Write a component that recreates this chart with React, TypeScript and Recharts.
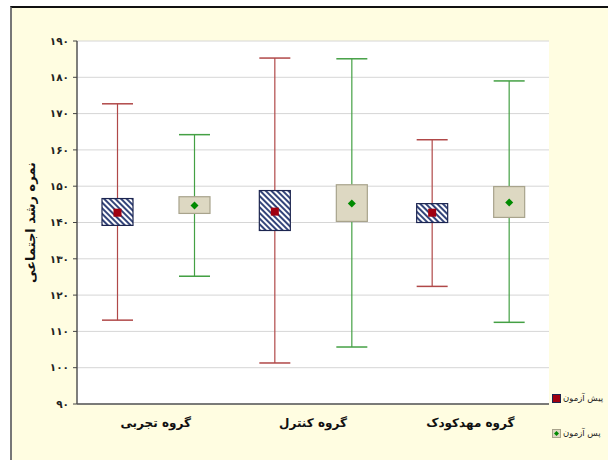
import {
  ComposedChart,
  Bar,
  XAxis,
  YAxis,
  CartesianGrid,
} from 'recharts';

const categories = ['گروه تجربی', 'گروه کنترل', 'گروه مهدکودک'];

// pre-test (پیش آزمون)
const preMin = [113.1, 101.3, 122.4];
const preBoxLow = [139.2, 137.8, 140.0];
const preMean = [142.7, 143.0, 142.7];
const preBoxHigh = [146.6, 148.8, 145.2];
const preMax = [172.7, 185.3, 162.8];

// post-test (پس آزمون)
const postMin = [125.2, 105.7, 112.5];
const postBoxLow = [142.5, 140.3, 141.4];
const postMean = [144.7, 145.2, 145.5];
const postBoxHigh = [147.1, 150.4, 149.9];
const postMax = [164.2, 185.1, 179.0];

const yTicks = [90, 100, 110, 120, 130, 140, 150, 160, 170, 180, 190];

const seriesNames = ['پیش آزمون', 'پس آزمون'];

const data = categories.map((name, i) => ({
  name,
  pre: [preMin[i], preMax[i]],
  preBox: [preBoxLow[i], preBoxHigh[i]],
  preMean: preMean[i],
  post: [postMin[i], postMax[i]],
  postBox: [postBoxLow[i], postBoxHigh[i]],
  postMean: postMean[i],
}));

const toPersian = (n: number) =>
  String(n).replace(/\d/g, (d) => '۰۱۲۳۴۵۶۷۸۹'[Number(d)]);

const FONT = '"DejaVu Sans", sans-serif';

function BoxShape(kind: 'pre' | 'post') {
  return (props: any) => {
    const { x, y, width, height, payload, index } = props;
    const [lo, hi] = payload[kind];
    const [bLo, bHi] = payload[kind + 'Box'];
    const mean = payload[kind + 'Mean'];
    // map a value into pixels with the bar's own (scaled) range
    const py = (v: number) => y + ((hi - v) / (hi - lo)) * height;
    const cx = x + width / 2;
    const whisker = kind === 'pre' ? '#b04848' : '#44a044';
    const pid = `hatch-${kind}-${index}`;
    const mY = py(mean);
    return (
      <g>
        <defs>
          <pattern
            id={pid}
            width={4}
            height={4}
            patternUnits="userSpaceOnUse"
            patternTransform="rotate(-45)"
          >
            <rect width={4} height={4} fill="#ffffff" />
            <rect width={2} height={4} fill="#34457a" />
          </pattern>
        </defs>
        <line x1={cx} x2={cx} y1={py(hi)} y2={py(lo)} stroke={whisker} strokeWidth={1.2} />
        <line x1={x} x2={x + width} y1={py(hi)} y2={py(hi)} stroke={whisker} strokeWidth={1.5} />
        <line x1={x} x2={x + width} y1={py(lo)} y2={py(lo)} stroke={whisker} strokeWidth={1.5} />
        <rect
          x={x}
          y={py(bHi)}
          width={width}
          height={py(bLo) - py(bHi)}
          fill={kind === 'pre' ? `url(#${pid})` : '#ddd8c2'}
          stroke={kind === 'pre' ? '#1c2550' : '#a8a38c'}
          strokeWidth={1.2}
        />
        {kind === 'pre' ? (
          <rect x={cx - 4} y={mY - 4} width={8} height={8} fill="#a00010" />
        ) : (
          <path
            d={`M${cx},${mY - 4} L${cx + 4},${mY} L${cx},${mY + 4} L${cx - 4},${mY} Z`}
            fill="#008a00"
          />
        )}
      </g>
    );
  };
}

function LegendBox() {
  return (
    <div
      style={{
        position: 'absolute',
        left: 552,
        top: 390,
        fontFamily: FONT,
        fontSize: 8.5,
        color: '#222',
        whiteSpace: 'nowrap',
      }}
    >
      <div style={{ display: 'flex', alignItems: 'center', height: 16 }}>
        <svg width={9} height={9}>
          <rect x={0.5} y={0.5} width={8} height={8} fill="#a00010" stroke="#1c2550" />
        </svg>
        <span style={{ marginLeft: 2 }}>{seriesNames[0]}</span>
      </div>
      <div style={{ display: 'flex', alignItems: 'center', height: 16, marginTop: 19 }}>
        <svg width={9} height={9}>
          <rect x={0.5} y={0.5} width={8} height={8} fill="#ddd8c2" stroke="#a8a38c" />
          <path d="M4.5,2 L7,4.5 L4.5,7 L2,4.5 Z" fill="#008a00" />
        </svg>
        <span style={{ marginLeft: 2 }}>{seriesNames[1]}</span>
      </div>
    </div>
  );
}

const emptyTick = () => <g />;

export default function App() {
  return (
    <div
      style={{
        position: 'absolute',
        left: 0,
        top: 0,
        width: 608,
        height: 460,
        overflow: 'hidden',
        background: '#ffffff',
      }}
    >
      <div
        style={{
          position: 'absolute',
          left: 10,
          top: 6,
          right: 0,
          bottom: 0,
          background: '#fffde1',
          borderTop: '2px solid #111',
          borderLeft: '2px solid #777',
        }}
      />
      <div style={{ position: 'absolute', left: 0, top: 0 }}>
        <ComposedChart
          width={608}
          height={460}
          data={data}
          margin={{ top: 41, right: 59, bottom: 26, left: 10 }}
          barSize={31}
          barGap={46}
        >
          <CartesianGrid vertical={false} stroke="#d6d6d6" fill="#ffffff" />
          <XAxis
            dataKey="name"
            height={30}
            axisLine={{ stroke: '#555', strokeWidth: 1.5 }}
            tickLine={false}
            tick={{ fill: '#111', fontSize: 12, fontWeight: 'bold', fontFamily: FONT }}
            tickMargin={8}
          />
          <XAxis
            xAxisId="top"
            dataKey="name"
            orientation="top"
            mirror
            height={0}
            axisLine={{ stroke: '#555', strokeWidth: 1.5 }}
            tickLine={{ stroke: '#444' }}
            tickSize={3}
            tick={emptyTick}
          />
          <YAxis
            domain={[90, 190]}
            ticks={yTicks}
            width={67}
            axisLine={{ stroke: '#555', strokeWidth: 1.5 }}
            tickLine={{ stroke: '#444' }}
            tickSize={4}
            tickMargin={4}
            tickFormatter={toPersian}
            tick={{ fill: '#222', fontSize: 10.5, fontWeight: 'bold', fontFamily: FONT }}
            label={{
              value: 'نمره رشد اجتماعی',
              angle: -90,
              position: 'insideLeft',
              offset: 20,
              style: {
                fill: '#111',
                fontSize: 13,
                fontWeight: 'bold',
                fontFamily: FONT,
                textAnchor: 'middle',
              },
            }}
          />
          <YAxis
            yAxisId="right"
            orientation="right"
            mirror
            domain={[90, 190]}
            ticks={yTicks}
            width={0}
            axisLine={{ stroke: '#555', strokeWidth: 1.5 }}
            tickLine={{ stroke: '#444' }}
            tickSize={3}
            tick={emptyTick}
          />
          <Bar
            dataKey="pre"
            name={seriesNames[0]}
            shape={BoxShape('pre')}
            isAnimationActive={false}
          />
          <Bar
            dataKey="post"
            name={seriesNames[1]}
            shape={BoxShape('post')}
            isAnimationActive={false}
          />
        </ComposedChart>
      </div>
      <LegendBox />
    </div>
  );
}
